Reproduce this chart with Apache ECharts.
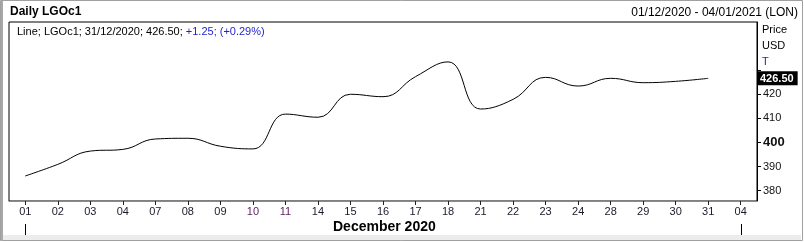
<!DOCTYPE html>
<html>
<head>
<meta charset="utf-8">
<script src="https://cdn.jsdelivr.net/npm/echarts@6/dist/echarts.min.js"></script>
<style>
html,body{margin:0;padding:0;background:#fff;}
#c{width:804px;height:242px;}
</style>
</head>
<body>
<div id="c"></div>
<script>
const categories = ['01','02','03','04','07','08','09','10','11','14','15','16','17','18','21','22','23','24','28','29','30','31','04'];
const prices = [386.1,390.9,396.4,397.1,401.4,401.7,398.4,397.3,411.7,410.4,419.9,418.9,427.2,433.3,413.8,417.8,426.9,423.3,426.5,424.7,425.25,426.5,null];
const yTickValues = [380,390,400,410,420,430];
const yLabelValues = [380,390,400,410,420,426.5];
const lastPrice = 426.5;
const titleText = 'Daily LGOc1';
const rangeText = '01/12/2020 - 04/01/2021 (LON)';
const legendMain = 'Line; LGOc1; 31/12/2020; 426.50; ';
const legendChange = '+1.25; (+0.29%)';
const monthText = 'December 2020';
const unitTexts = ['Price','USD','T'];

const FONT = '"Liberation Sans", Arial, sans-serif';
const chart = echarts.init(document.getElementById('c'));
const option = {
  animation: false,
  backgroundColor: '#fff',
  textStyle: {fontFamily: FONT},
  grid: {left: 9, right: 47, top: 22, bottom: 41, show: true, borderColor: '#000', borderWidth: 1, backgroundColor: 'transparent'},
  xAxis: {
    type: 'category', data: categories, boundaryGap: true,
    axisLine: {show: true, lineStyle: {color: '#8a8898', width: 1}},
    axisTick: {show: true, alignWithLabel: true, length: 4, inside: false, lineStyle: {color: '#222'}},
    axisLabel: {
      margin: 5, fontSize: 11, fontFamily: FONT,
      color: function (v, i) { return (i === 7 || i === 8) ? '#5a1e5e' : '#1a1a2a'; }
    },
    splitLine: {show: false}
  },
  yAxis: {
    type: 'value', position: 'right', min: 375.75, max: 449.8,
    axisLine: {show: true, lineStyle: {color: '#000'}},
    axisTick: {show: true, length: 4, lineStyle: {color: '#000'}, customValues: yTickValues},
    axisLabel: {
      margin: 1, fontFamily: FONT, fontSize: 11, color: '#111',
      customValues: yLabelValues,
      formatter: function (v) {
        if (Math.abs(v - lastPrice) < 1e-6) return '{cur|' + v.toFixed(2) + '}';
        if (v === 400) return '{b|400}';
        return '{n|' + v + '}';
      },
      rich: {
        n: {fontSize: 11, fontFamily: FONT, color: '#111', padding: [0,0,0,5]},
        b: {fontSize: 13, fontWeight: 'bold', fontFamily: FONT, color: '#111', padding: [0,0,0,5]},
        cur: {fontSize: 11, fontWeight: 'bold', fontFamily: FONT, color: '#fff', backgroundColor: '#000', padding: [2,4,1,2]}
      }
    },
    splitLine: {show: false}
  },
  series: [{
    type: 'line', data: prices, smooth: 0.45, showSymbol: false, connectNulls: false,
    lineStyle: {color: '#000', width: 1}, itemStyle: {color: '#000'}
  }]
};
chart.setOption(option);

const x0 = chart.convertToPixel({xAxisIndex: 0}, 0);
const xN = chart.convertToPixel({xAxisIndex: 0}, categories.length - 1);
const graphics = [
  {type: 'rect', shape: {x: 0.5, y: 0.5, width: 802, height: 240}, style: {fill: 'none', stroke: '#a0a0a0', lineWidth: 1}, z: -1},
  {type: 'rect', shape: {x: 1, y: 1, width: 2, height: 240}, style: {fill: '#a8a8a8'}},
  {type: 'rect', shape: {x: 3, y: 235, width: 798, height: 5}, style: {fill: '#ececec'}},
  {type: 'text', left: 10, top: 6, style: {text: titleText, font: 'bold 12px ' + FONT, fill: '#000'}},
  {type: 'text', right: 6, top: 7, style: {text: rangeText, font: '12px ' + FONT, fill: '#000'}},
  {type: 'text', left: 17, top: 26, style: {text: '{a|' + legendMain + '}{c|' + legendChange + '}', rich: {a: {font: '11px ' + FONT, fill: '#000'}, c: {font: '11px ' + FONT, fill: '#1f1fd0'}}}},
  {type: 'text', left: 333, top: 220, style: {text: monthText, font: 'bold 14px ' + FONT, fill: '#000'}},
  {type: 'line', shape: {x1: Math.round(x0) + 0.5, y1: 224, x2: Math.round(x0) + 0.5, y2: 235}, style: {stroke: '#000', lineWidth: 1}},
  {type: 'line', shape: {x1: Math.round(xN) + 0.5, y1: 224, x2: Math.round(xN) + 0.5, y2: 235}, style: {stroke: '#000', lineWidth: 1}}
];
unitTexts.forEach(function (t, i) {
  graphics.push({type: 'text', left: 762, top: 24 + i * 16, style: {text: t, font: '11px ' + FONT, fill: i === 2 ? '#1f1fd0' : '#000'}});
});
chart.setOption({graphic: graphics});
</script>
</body>
</html>
